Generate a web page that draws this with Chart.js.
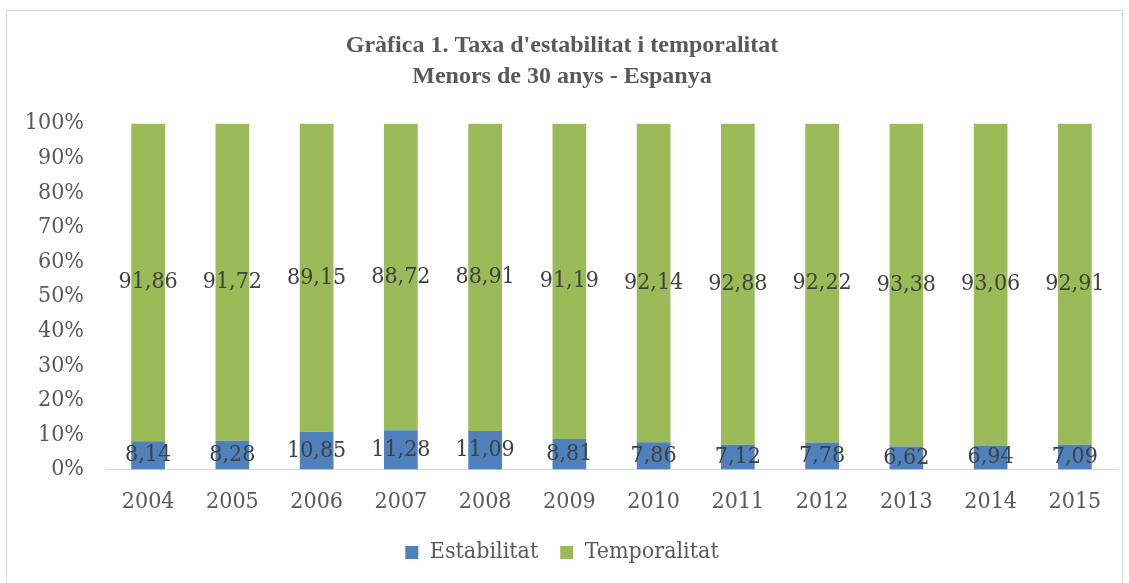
<!DOCTYPE html>
<html>
<head>
<meta charset="utf-8">
<script src="https://cdn.jsdelivr.net/npm/chart.js@4"></script>
<style>
  body { margin: 0; background: #fff; }
  #box { position: absolute; left: 6px; top: 10px; width: 1117px; height: 580px; border: 1px solid #d9d9d9; box-sizing: border-box; }
  #ctx { display: block; }
</style>
</head>
<body>
<div id="box"><canvas id="ctx" width="1115" height="578"></canvas></div>
<script>
const years = ["2004", "2005", "2006", "2007", "2008", "2009", "2010", "2011", "2012", "2013", "2014", "2015"];
const estabilitat = [8.14, 8.28, 10.85, 11.28, 11.09, 8.81, 7.86, 7.12, 7.78, 6.62, 6.94, 7.09];
const temporalitat = [91.86, 91.72, 89.15, 88.72, 88.91, 91.19, 92.14, 92.88, 92.22, 93.38, 93.06, 92.91];

const serif = "'DejaVu Serif Condensed', 'Liberation Serif', serif";

// labels centred in every segment, decimal comma
const segLabels = {
  id: "segLabels",
  afterDatasetsDraw(chart) {
    const c = chart.ctx;
    c.save();
    c.font = "23px " + serif;
    c.fillStyle = "#404040";
    c.textAlign = "center";
    c.textBaseline = "middle";
    chart.data.datasets.forEach((ds, i) => {
      chart.getDatasetMeta(i).data.forEach((bar, j) => {
        const txt = ds.data[j].toFixed(2).replace(".", ",");
        c.fillText(txt, bar.x, (bar.y + bar.base) / 2);
      });
    });
    c.restore();
  },
};

new Chart(document.getElementById("ctx"), {
  type: "bar",
  data: {
    labels: years,
    datasets: [
      { label: "Estabilitat", data: estabilitat, backgroundColor: "#4f81bd" },
      { label: "Temporalitat", data: temporalitat, backgroundColor: "#9bbb59" },
    ],
  },
  options: {
    responsive: false,
    animation: false,
    layout: { padding: { left: 0, right: 5, top: 0, bottom: 15 } },
    datasets: { bar: { barPercentage: 0.4, categoryPercentage: 1 } },
    scales: {
      x: {
        stacked: true,
        afterFit: (s) => { s.height -= 16; },
        grid: { display: false, drawTicks: false },
        border: { color: "#d9d9d9", width: 1 },
        ticks: { color: "#595959", font: { family: serif, size: 23 }, padding: 19 },
      },
      y: {
        stacked: true,
        min: 0,
        max: 100,
        afterFit: (s) => { s.width = 99; },
        grid: { display: false, drawTicks: false },
        border: { display: false },
        ticks: {
          stepSize: 10,
          color: "#595959",
          padding: 22,
          font: { family: serif, size: 23 },
          callback: (v) => v + "%",
        },
      },
    },
    plugins: {
      title: {
        display: true,
        text: ["Gràfica 1. Taxa d'estabilitat i temporalitat", "Menors de 30 anys - Espanya"],
        color: "#595959",
        font: { family: "'Liberation Serif', serif", size: 24, weight: "bold", lineHeight: 1.3 },
        padding: { top: 19, bottom: 31 },
      },
      legend: {
        position: "bottom",
        labels: {
          color: "#595959",
          font: { family: serif, size: 23 },
          boxWidth: 13,
          boxHeight: 13,
          padding: 22,
        },
      },
      tooltip: { enabled: false },
    },
  },
  plugins: [segLabels],
});
</script>
</body>
</html>
